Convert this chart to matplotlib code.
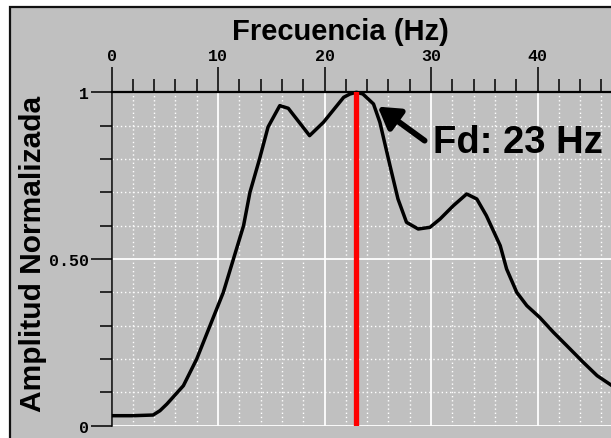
import numpy as np
import matplotlib.pyplot as plt
from matplotlib.patches import Rectangle
from matplotlib.ticker import MultipleLocator

# normalized amplitude spectrum
freq = [0.2, 2.0, 3.9, 4.55, 5.2, 6.75, 8.0, 9.25, 10.5, 11.45, 12.4, 13.0, 13.9, 14.7,
        15.8, 16.6, 18.6, 19.9, 21.8, 22.4, 23.0, 23.6, 24.6, 25.2, 26.15, 26.9, 27.7,
        28.8, 29.9, 30.85, 32.1, 33.35, 34.3, 35.2, 36.5, 37.1, 38.05, 39.0, 40.2, 41.5,
        42.75, 44.3, 45.6, 47.0]
amp = [0.03, 0.03, 0.032, 0.045, 0.065, 0.12, 0.20, 0.30, 0.40, 0.50, 0.60, 0.70, 0.80, 0.896,
       0.96, 0.952, 0.87, 0.91, 0.985, 0.995, 1.0, 0.995, 0.965, 0.91, 0.78, 0.68, 0.61,
       0.59, 0.595, 0.62, 0.66, 0.695, 0.68, 0.63, 0.54, 0.47, 0.40, 0.36, 0.325, 0.28,
       0.24, 0.19, 0.15, 0.12]

fd = 23
x_ticks = [0, 10, 20, 30, 40]
x_labels = ['0', '10', '20', '30', '40']
y_ticks = [0, 0.5, 1]
y_labels = ['0', '0.50', '1']

W, H = 611, 439
gray = '#c0c0c0'
fig = plt.figure(figsize=(W / 100, H / 100), dpi=100, facecolor='white')

# gray panel with dark border
fig.patches.append(Rectangle((10 / W, -0.2), 1.5, 1.2 - 8 / H, transform=fig.transFigure,
                             facecolor=gray, edgecolor='#111111', lw=1.6, zorder=-5))

xmax = 48
ax = fig.add_axes([111.5 / W, 12.3 / H, xmax * 10.65 / W, 333.4 / H])
ax.set_facecolor(gray)
ax.set_xlim(0, xmax)
ax.set_ylim(0, 1)

ax.xaxis.tick_top()
ax.set_xticks(x_ticks)
ax.set_xticklabels(x_labels)
ax.xaxis.set_minor_locator(MultipleLocator(2))
ax.set_yticks(y_ticks)
ax.set_yticklabels(y_labels)
ax.yaxis.set_minor_locator(MultipleLocator(0.1))

tick_font = dict(family='Liberation Mono', weight='bold', size=12)
for lab in ax.get_xticklabels() + ax.get_yticklabels():
    lab.set_fontproperties(tick_font)

ax.tick_params(axis='x', which='major', length=18, width=1.1, pad=3)
ax.tick_params(axis='x', which='minor', length=9.4, width=1.1)
ax.tick_params(axis='y', which='major', length=15, width=1.1, pad=1)
ax.tick_params(axis='y', which='minor', length=8.6, width=1.1)

for side in ['bottom', 'right']:
    ax.spines[side].set_visible(False)
ax.spines['top'].set_linewidth(1.6)
ax.spines['left'].set_linewidth(1.1)

ax.grid(which='major', color='white', lw=1.3)
ax.grid(which='minor', color='white', lw=1.0, linestyle=(0, (1, 2)))
ax.set_axisbelow(True)

ax.plot(freq, amp, color='black', lw=2.5, zorder=3, clip_on=False,
        solid_joinstyle='round')
ax.axvline(fd, color='#ff0000', lw=3.8, zorder=4)

ax.annotate('', xy=(25.0, 0.957), xytext=(29.4, 0.855),
            arrowprops=dict(arrowstyle='-|>,head_length=0.9,head_width=0.55',
                            color='black', lw=4.2, mutation_scale=14, shrinkA=0, shrinkB=0),
            zorder=5)
ax.text(30.2, 0.852, 'Fd: %d Hz' % fd, ha='left', va='center',
        family='Liberation Sans', weight='bold', fontsize=27.5, zorder=5)

fig.text(340 / W, 1 - 32 / H, 'Frecuencia (Hz)', ha='center', va='center',
         family='Liberation Sans', weight='bold', fontsize=21)
fig.text(33 / W, 1 - 254 / H, 'Amplitud Normalizada', ha='center', va='center',
         rotation=90, family='Liberation Sans', weight='bold', fontsize=21.5)

fig.savefig('out.png', dpi=100, facecolor='white')
